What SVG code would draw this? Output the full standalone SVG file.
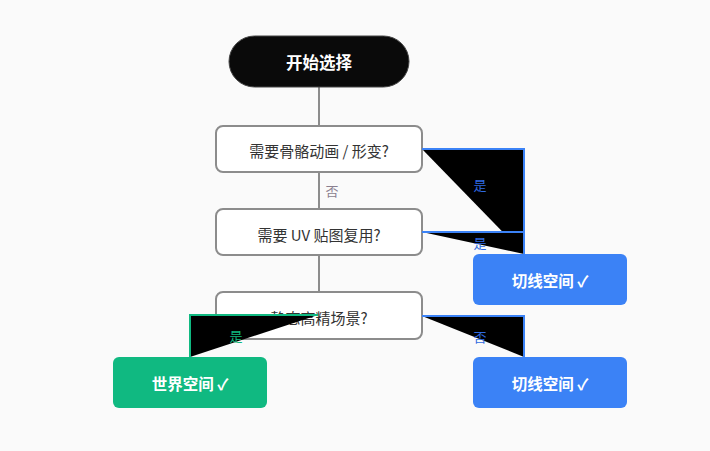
<svg xmlns="http://www.w3.org/2000/svg" width="710" height="451" viewBox="0 0 710 451">
<style>
text{font-family:"Noto Sans CJK SC","Noto Sans",sans-serif;text-anchor:middle;dominant-baseline:central}
.q rect{fill:#fff;stroke:#8c8c8c;stroke-width:2}
.q text{font-size:15px;fill:#333}
.end text{font-size:15.5px;font-weight:bold;fill:#fff}
.line{stroke:#8c8c8c;stroke-width:2;fill:none}
.tri{fill:#000;stroke-width:2}
.lbl{font-size:13px}
</style>
<rect width="710" height="451" fill="#fafafa"/>
<g id="connectors">
<line class="line" x1="319" y1="87" x2="319" y2="126"/>
<line class="line" x1="319" y1="172" x2="319" y2="209"/>
<line class="line" x1="319" y1="255" x2="319" y2="292"/>
<text class="lbl" x="332" y="190" fill="#8a7f8f">否</text>
</g>
<g id="start">
<rect x="229" y="36" width="180" height="51" rx="25.5" fill="#0a0a0a" stroke="#444" stroke-width="1"/>
<text x="319" y="62" font-size="16.5" font-weight="bold" fill="#fff">开始选择</text>
</g>
<g id="q1" class="q">
<rect x="216" y="126" width="206" height="46" rx="7"/>
<text x="319" y="150">需要骨骼动画 / 形变?</text>
</g>
<g id="q2" class="q">
<rect x="216" y="209" width="206" height="46" rx="7"/>
<text x="319" y="234">需要 UV 贴图复用?</text>
</g>
<g id="q3" class="q">
<rect x="216" y="292" width="206" height="47" rx="7"/>
<text x="319" y="317">静态高精场景?</text>
</g>
<g id="tangent1" class="end">
<rect x="473" y="254" width="154" height="51" rx="6" fill="#3b82f6"/>
<text x="550" y="280">切线空间 ✓</text>
</g>
<g id="world" class="end">
<rect x="113" y="357" width="154" height="51" rx="6" fill="#10b981"/>
<text x="190" y="383">世界空间 ✓</text>
</g>
<g id="tangent2" class="end">
<rect x="473" y="357" width="154" height="51" rx="6" fill="#3b82f6"/>
<text x="550" y="383">切线空间 ✓</text>
</g>
<g id="edges">
<path class="tri" d="M422,149 L524,149 L524,254" stroke="#3b82f6"/>
<text class="lbl" x="480" y="184" fill="#2f6ae0">是</text>
<path class="tri" d="M422,232 L524,232 L524,254" stroke="#3b82f6"/>
<text class="lbl" x="480" y="242" fill="#2f6ae0">是</text>
<path class="tri" d="M318,315 L190,315 L190,357" stroke="#10b981"/>
<text class="lbl" x="236" y="335" fill="#10b981">是</text>
<path class="tri" d="M422,316 L524,316 L524,357" stroke="#3b82f6"/>
<text class="lbl" x="480" y="336" fill="#2f6ae0">否</text>
</g>
</svg>
